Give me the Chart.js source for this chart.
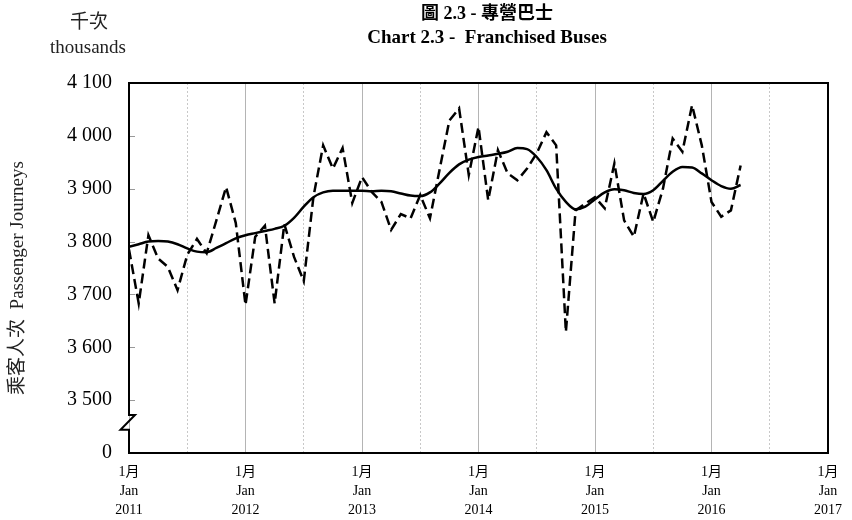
<!DOCTYPE html>
<html>
<head>
<meta charset="utf-8">
<script src="https://cdn.jsdelivr.net/npm/chart.js@4"></script>
<style>
  body { margin: 0; background: #fff; }
  #wrap { width: 852px; height: 520px; }
</style>
</head>
<body>
<div id="wrap"><canvas id="busChart" width="852" height="520"></canvas></div>
<script>
// monthly passenger journeys ('000), Jan 2011 - Apr 2016
var journeys = [3785, 3683, 3812, 3768, 3752, 3708, 3775, 3805, 3778, 3840, 3903, 3835,
    3680, 3809, 3830, 3683, 3833, 3771, 3725, 3885, 3982, 3938, 3977, 3873,
    3922, 3894, 3875, 3822, 3852, 3844, 3888, 3844, 3937, 4029, 4052, 3926,
    4017, 3878, 3973, 3929, 3916, 3938, 3967, 4007, 3982, 3629, 3859, 3872,
    3884, 3863, 3948, 3840, 3809, 3891, 3837, 3900, 3995, 3970, 4058, 3982,
    3875, 3847, 3859, 3944];
// trend (smooth line)
var trend = [3790, 3795, 3800, 3801, 3800, 3795, 3787, 3781, 3780, 3788, 3797, 3806,
    3812, 3816, 3820, 3824, 3830, 3845, 3866, 3884, 3893, 3896, 3896, 3896,
    3896, 3895, 3896, 3895, 3891, 3887, 3886, 3893, 3910, 3930, 3946, 3955,
    3960, 3963, 3966, 3970, 3977, 3975, 3960, 3935, 3900, 3875, 3861, 3866,
    3880, 3893, 3899, 3897, 3892, 3890, 3897, 3915, 3932, 3941, 3940, 3929,
    3916, 3905, 3900, 3907];
var yearLabels = ["2011", "2012", "2013", "2014", "2015", "2016", "2017"];
var monthLabel = ["1月", "Jan"];
var titleLines = ["圖 2.3 - 專營巴士", "Chart 2.3 -  Franchised Buses"];
var unitLines = ["千次", "thousands"];
var yTitle = "乘客人次  Passenger Journeys";

var serif = '"Liberation Serif", "Noto Sans CJK TC", serif';

function toPoints(arr) {
    return arr.map(function (v, i) { return { x: i, y: v }; });
}
function fmt(v) {
    if (v === 3400) return "0";
    return String(v).replace(/\B(?=(\d{3})+(?!\d))/g, " ");
}

var decor = {
    id: "decor",
    afterDraw: function (chart) {
        var ctx = chart.ctx, a = chart.chartArea, y = chart.scales.y;
        ctx.save();
        // inward tick marks on y axis
        ctx.strokeStyle = "#999";
        ctx.lineWidth = 1;
        [3500, 3600, 3700, 3800, 3900, 4000].forEach(function (v) {
            var py = Math.round(y.getPixelForValue(v)) + 0.5;
            ctx.beginPath();
            ctx.moveTo(a.left, py);
            ctx.lineTo(a.left + 6, py);
            ctx.stroke();
        });
        // frame with axis break
        var b1 = y.getPixelForValue(3472), b2 = y.getPixelForValue(3444);
        ctx.strokeStyle = "#000";
        ctx.lineWidth = 2;
        ctx.beginPath();
        ctx.moveTo(a.left, a.top);
        ctx.lineTo(a.right, a.top);
        ctx.lineTo(a.right, a.bottom);
        ctx.lineTo(a.left, a.bottom);
        ctx.lineTo(a.left, b2);
        ctx.lineTo(a.left - 8.5, b2);
        ctx.lineTo(a.left + 6, b1);
        ctx.lineTo(a.left, b1);
        ctx.closePath();
        ctx.stroke();

        // titles
        ctx.fillStyle = "#000";
        ctx.textAlign = "center";
        ctx.textBaseline = "middle";
        ctx.font = "bold 18px " + serif;
        ctx.fillText(titleLines[0], 487, 14);
        ctx.font = "bold 19px " + serif;
        ctx.fillText(titleLines[1], 487, 38);
        ctx.fillStyle = "#222";
        ctx.font = "19px " + serif;
        ctx.fillText(unitLines[0], 89, 23);
        ctx.fillText(unitLines[1], 88, 48);

        // y axis title
        ctx.translate(18, 278);
        ctx.rotate(-Math.PI / 2);
        ctx.font = "19px " + serif;
        ctx.fillText(yTitle, 0, 0);
        ctx.restore();
    }
};

var chart = new Chart(document.getElementById("busChart").getContext("2d"), {
    type: "line",
    data: {
        datasets: [
            {
                label: "Passenger journeys",
                data: toPoints(journeys),
                borderColor: "#000",
                borderWidth: 2.5,
                borderDash: [10, 5],
                pointRadius: 0,
                tension: 0
            },
            {
                label: "Trend",
                data: toPoints(trend),
                borderColor: "#000",
                borderWidth: 2.5,
                pointRadius: 0,
                cubicInterpolationMode: "monotone"
            }
        ]
    },
    options: {
        responsive: false,
        animation: false,
        layout: { padding: { top: 83, right: 17, left: 0, bottom: 0 } },
        plugins: {
            legend: { display: false },
            tooltip: { enabled: false }
        },
        scales: {
            x: {
                type: "linear",
                min: 0,
                max: 72,
                afterFit: function (s) { s.height = 67; },
                ticks: {
                    stepSize: 6,
                    autoSkip: false,
                    maxRotation: 0,
                    padding: 10,
                    color: "#000",
                    font: { family: serif, size: 14, lineHeight: 1.35 },
                    callback: function (v) {
                        if (v % 12 !== 0) return "";
                        return [monthLabel[0], monthLabel[1], yearLabels[v / 12]];
                    }
                },
                grid: {
                    drawTicks: false,
                    color: function (c) {
                        return c.tick && c.tick.value % 12 === 0 ? "#b4b4b4" : "#c8c8c8";
                    },
                    lineWidth: 1
                },
                border: {
                    display: false,
                    dash: function (c) {
                        return c.tick && c.tick.value % 12 !== 0 ? [2, 2] : [];
                    }
                }
            },
            y: {
                min: 3400,
                max: 4100,
                afterFit: function (s) { s.width = 129; },
                ticks: {
                    stepSize: 100,
                    padding: 17,
                    color: "#000",
                    font: { family: serif, size: 20 },
                    callback: function (v) { return fmt(v); }
                },
                grid: { drawOnChartArea: false, drawTicks: false },
                border: { display: false }
            }
        }
    },
    plugins: [decor]
});
</script>
</body>
</html>
